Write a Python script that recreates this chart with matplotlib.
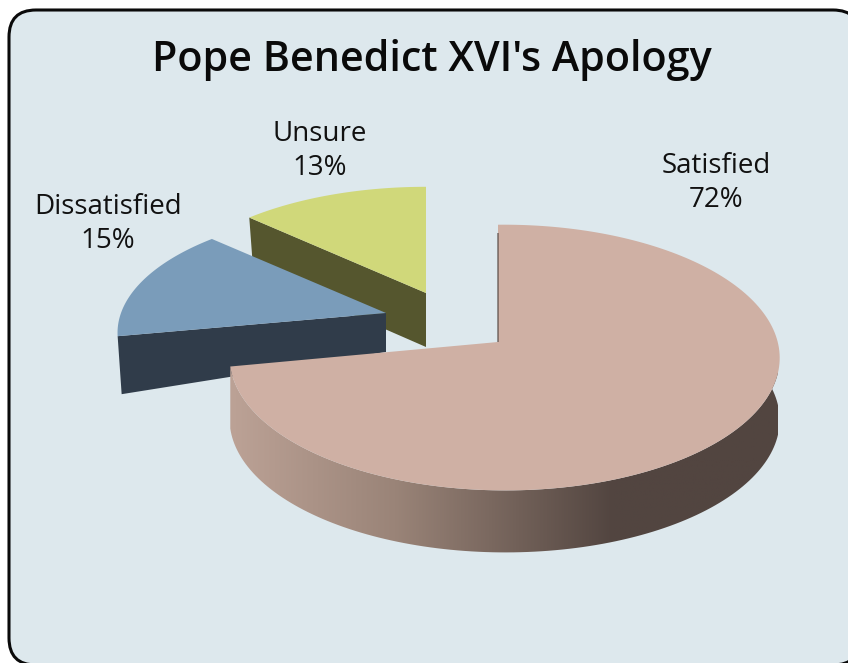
import numpy as np
import matplotlib
matplotlib.use('Agg')
import matplotlib.pyplot as plt
from matplotlib.colors import LinearSegmentedColormap
from matplotlib.patches import FancyBboxPatch, Polygon

#-----------------DATA-----------------
title = "Pope Benedict XVI's Apology"
categories = ['Satisfied', 'Dissatisfied', 'Unsure']
values = [72, 15, 13]

#-----------------STYLE-----------------
bg = '#dde8ed'
top_colors = ['#cfb0a4', '#7a9cba', '#d0d87a']
side_colors = ['#524540', '#303c4a', '#55562e']
label_pos = [(716, 183), (108, 224), (320, 151)]

# perspective settings for each exploded slice, in pixels
views = [
    dict(cx=498, cy=342, A=273, B=131, k=0.117, m=-0.024, d_apex=62, d_rim=58),
    dict(cx=386, cy=313, A=265, B=120, k=0.160, m=0.0, d_apex=39, d_rim=58),
    dict(cx=426, cy=293, A=264, B=120, k=0.130, m=0.0, d_apex=54, d_rim=54),
]


# project angles (degrees) on the unit circle to the screen
def project(theta, v):
    t = np.radians(theta)
    u, h = np.cos(t), np.sin(t)
    w = 1 + v['k'] * h + v['m'] * u
    return v['cx'] + v['A'] * u / w, v['cy'] - v['B'] * h / w


fig = plt.figure(figsize=(8.48, 6.63), dpi=100, facecolor='white')
ax = fig.add_axes([0, 0, 1, 1])
ax.axis('off')

frame = FancyBboxPatch((9, 10), 851, 655, boxstyle='round,pad=0,rounding_size=27',
                       fc=bg, ec='#0a0a0a', lw=2.2, zorder=0)
ax.add_patch(frame)

# slice angles come clockwise from 12 o'clock
edges = 90 - np.cumsum([0] + values) * 3.6
shade = LinearSegmentedColormap.from_list('side', [(0, '#bca296'), (0.3, '#9a8478'),
                                                   (0.7, '#524540'), (1, '#524540')])

for i in [2, 1, 0]:
    v = views[i]
    theta = np.linspace(edges[i], edges[i + 1], 200)
    x, y = project(theta, v)
    if i == 0:
        # round outer wall with a left to right shade
        front = theta <= 8
        fx, fy = x[front], y[front]
        wall = np.column_stack([np.r_[fx, fx[::-1]],
                                np.r_[fy, fy[::-1] + v['d_apex']]])
        patch = Polygon(wall, closed=True, fc='none', ec='none', zorder=2)
        ax.add_patch(patch)
        im = ax.imshow(np.linspace(0, 1, 256).reshape(1, -1), cmap=shade, aspect='auto',
                       extent=[230, 778, 560, 360], zorder=2)
        im.set_clip_path(patch)
        # thin dark sliver of the cut face beside the vertical edge
        ax.plot([x[0], v['cx']], [y[0] + 8, v['cy']], color=side_colors[0], lw=1.1,
                alpha=0.75, zorder=4, solid_capstyle='butt')
    else:
        # cut face that looks to the viewer
        rim = (x[0], y[0])
        face = [rim, (v['cx'], v['cy']), (v['cx'], v['cy'] + v['d_apex']),
                (rim[0] + 4, rim[1] + v['d_rim'])]
        ax.add_patch(Polygon(face, closed=True, fc=side_colors[i], ec='none', zorder=2))
    top = np.column_stack([np.r_[v['cx'], x], np.r_[v['cy'], y]])
    ax.add_patch(Polygon(top, closed=True, fc=top_colors[i], ec='none', zorder=3))

ax.set_xlim(0, 848)
ax.set_ylim(663, 0)

ax.text(432, 71, title, family='Open Sans', weight='semibold', fontsize=29.7,
        ha='center', va='baseline', color='#0a0a0a')
for name, val, pos in zip(categories, values, label_pos):
    ax.text(pos[0], pos[1], f'{name}\n{val}%', family='Open Sans', fontsize=20,
            ha='center', va='center', linespacing=1.25, color='#111111')

fig.savefig('out.png', dpi=100)
